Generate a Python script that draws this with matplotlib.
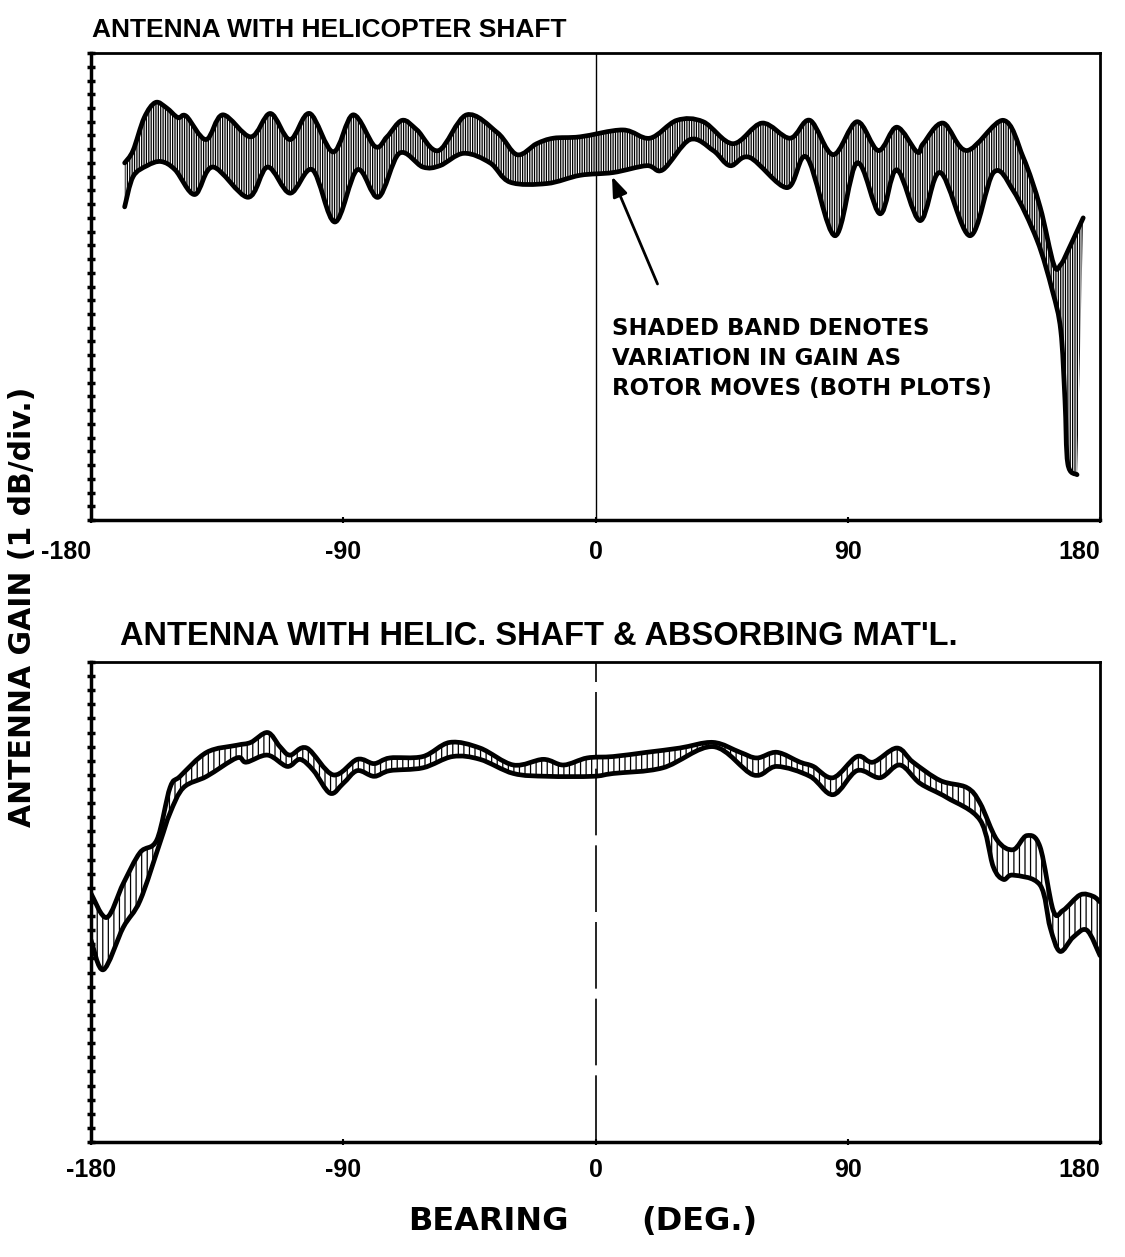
import numpy as np
import matplotlib.pyplot as plt
from matplotlib.path import Path
from matplotlib.patches import PathPatch

plt.rcParams['font.family'] = ['Liberation Sans', 'DejaVu Sans']
plt.rcParams['font.weight'] = 'bold'
plt.rcParams['hatch.linewidth'] = 0.9

# top plot: antenna with helicopter shaft (band = upper / lower envelope)
top_up_brg = [-168, -165, -161, -157, -153, -149, -146, -139, -133, -123,
              -116, -109, -102, -93.6, -86.5, -78.7, -74.4, -69, -63.7, -56,
              -46, -35, -28, -21, -15, -5.5, 9.8, 19.4, 29, 38.4,
              49, 59.4, 69.4, 76.5, 84.8, 93.3, 100.9, 107.5, 114.7, 116.9,
              124, 132.5, 145.5, 152.6, 158.6, 163.5, 166, 169, 174]
top_up_gain = [26.0, 26.9, 29.3, 30.4, 30.0, 29.3, 29.4, 27.7, 29.5, 27.9,
               29.6, 27.7, 29.6, 26.8, 29.5, 27.2, 27.9, 29.1, 28.4, 26.9,
               29.5, 28.2, 26.6, 27.4, 27.8, 27.9, 28.4, 27.8, 29.1, 29.0,
               27.4, 28.9, 27.8, 29.1, 26.6, 29.0, 26.9, 28.6, 26.8, 27.4,
               28.9, 26.9, 29.1, 26.4, 22.8, 18.6, 18.6, 19.8, 22.0]
top_lo_brg = [-168, -165, -160, -155, -150, -143, -136.5, -124, -117, -109,
              -101, -93, -85, -77.5, -70, -61.6, -55.5, -47, -37.6, -30.5,
              -17.3, -5.5, 6.3, 18.3, 24, 33.7, 42, 48, 55, 68.3,
              75.4, 85.4, 93.3, 101.5, 107.5, 115.8, 123, 133.6, 142, 149,
              157.5, 163, 166, 167.5, 168.5, 171.8]
top_lo_gain = [22.8, 25.0, 25.8, 26.1, 25.5, 23.7, 25.7, 23.5, 25.7, 23.8,
               25.5, 21.7, 25.5, 23.5, 26.7, 25.7, 25.8, 26.7, 26.0, 24.6,
               24.5, 25.1, 25.3, 25.8, 25.5, 27.7, 26.9, 25.8, 26.4, 24.2,
               26.4, 20.7, 26.0, 22.3, 25.5, 21.8, 25.3, 20.7, 25.3, 24.0,
               20.4, 16.7, 13.8, 8.7, 4.1, 3.3]

# bottom plot: with helic. shaft & absorbing material
bot_up_brg = [-180, -174.4, -168.5, -162.5, -156.5, -151.8, -148.2, -138.7, -128, -123,
              -117, -112.6, -109, -103, -93.6, -85, -79, -73.4, -61.6, -52,
              -41.2, -29.3, -18.6, -11.4, -3, 6.3, 18.3, 30, 42, 51.6,
              57.6, 64.7, 73, 77.7, 84.8, 93.3, 99, 107.5, 113.3, 123,
              132.5, 137.2, 143.2, 149, 153.9, 158.6, 163.3, 166.8, 172.9, 177.5,
              180]
bot_up_gain = [17.6, 15.9, 18.3, 20.5, 21.4, 25.1, 25.9, 27.6, 28.1, 28.3,
               29.0, 28.0, 27.4, 27.9, 26.0, 27.1, 26.8, 27.2, 27.3, 28.3,
               27.9, 26.7, 27.1, 26.7, 27.2, 27.3, 27.6, 27.9, 28.3, 27.6,
               27.2, 27.6, 26.9, 26.6, 25.8, 27.3, 26.9, 27.9, 26.9, 25.6,
               25.1, 24.0, 21.4, 20.7, 21.7, 20.9, 16.4, 16.4, 17.5, 17.4,
               17.0]
bot_lo_brg = [-180, -175.6, -168.5, -162.5, -155.4, -151.8, -147, -138.7, -128, -124.6,
              -117, -110, -105.4, -100.6, -94.7, -90, -85, -79, -73.4, -61.6,
              -51, -41.2, -29.3, -17.3, -0.9, 6.3, 24, 42, 56.3, 64.7,
              76.5, 84.8, 93.3, 101.5, 108.6, 115.8, 125.3, 137.2, 141.9, 145.5,
              149, 158.6, 162.2, 165.7, 170.4, 175.3, 180]
bot_lo_gain = [14.3, 12.2, 15.2, 17.1, 21.2, 23.3, 25.1, 25.9, 27.2, 26.9,
               27.4, 26.6, 27.1, 26.3, 24.7, 25.4, 26.3, 25.9, 26.3, 26.5,
               27.3, 27.1, 26.1, 25.9, 25.9, 26.1, 26.5, 28.0, 26.0, 26.6,
               25.9, 24.6, 26.3, 25.8, 26.7, 25.4, 24.4, 22.8, 19.5, 18.6,
               18.9, 18.2, 15.2, 13.5, 14.5, 15.0, 13.2]

xticks = [-180, -90, 0, 90, 180]
xticklabels = ['-180', '-90', '0', '90', '180']
n_div = 34


# smooth curve through the read points (catmull-rom -> bezier)
def smooth_verts(x, y):
    pts = np.column_stack([x, y]).astype(float)
    n = len(pts)
    verts = [pts[0]]
    for i in range(n - 1):
        p0 = pts[max(i - 1, 0)]
        p1 = pts[i]
        p2 = pts[i + 1]
        p3 = pts[min(i + 2, n - 1)]
        verts += [p1 + (p2 - p0) / 6, p2 - (p3 - p1) / 6, p2]
    codes = [Path.MOVETO] + [Path.CURVE4] * (3 * (n - 1))
    return verts, codes


def draw_band(ax, ub, ug, lb, lg, hatch):
    uv, uc = smooth_verts(ub, ug)
    lv, lc = smooth_verts(lb[::-1], lg[::-1])
    lc = [Path.LINETO] + lc[1:]
    band = Path(uv + lv + [uv[0]], uc + lc + [Path.CLOSEPOLY])
    ax.add_patch(PathPatch(band, facecolor='none', edgecolor='black', hatch=hatch, lw=0))
    for v, c in [(uv, uc), smooth_verts(lb, lg)]:
        ax.add_patch(PathPatch(Path(v, c), fill=False, edgecolor='black', lw=3.4,
                               joinstyle='round', capstyle='round'))


fig = plt.figure(figsize=(11.25, 12.57), dpi=100)
ax1 = fig.add_axes([0.0809, 0.5863, 0.8969, 0.3715])
ax2 = fig.add_axes([0.0809, 0.0915, 0.8969, 0.3819])

draw_band(ax1, np.array(top_up_brg), np.array(top_up_gain),
          np.array(top_lo_brg), np.array(top_lo_gain), '|||||||')
draw_band(ax2, np.array(bot_up_brg), np.array(bot_up_gain),
          np.array(bot_lo_brg), np.array(bot_lo_gain), '|||')

ax1.axvline(0, color='black', lw=1.0)
ax2.axvline(0, color='black', lw=1.2, dashes=(40, 6))

for ax, pad in [(ax1, 12), (ax2, 9)]:
    ax.set_xlim(-180, 180)
    ax.set_ylim(0, n_div)
    ax.set_xticks(xticks)
    ax.set_xticklabels(xticklabels, fontsize=18, fontweight='bold')
    ax.set_yticks(range(0, n_div + 1))
    ax.set_yticklabels([])
    ax.tick_params(axis='y', direction='inout', length=6, width=2.5)
    ax.tick_params(axis='x', direction='inout', length=5, width=1.5, pad=pad)
    for s in ['left', 'bottom']:
        ax.spines[s].set_linewidth(2.5)
    for s in ['top', 'right']:
        ax.spines[s].set_linewidth(2.0)

# label alignment like the original
labs = ax1.get_xticklabels()
labs[0].set_ha('right')
labs[-1].set_ha('right')
labs = ax2.get_xticklabels()
labs[-1].set_ha('right')

ax1.annotate('', xy=(5.5, 25.2), xytext=(22.5, 17.0),
             arrowprops=dict(arrowstyle='-|>,head_length=1.2,head_width=0.45',
                             color='black', lw=2))
fig.text(0.544, 0.748, 'SHADED BAND DENOTES\nVARIATION IN GAIN AS\nROTOR MOVES (BOTH PLOTS)',
         fontsize=16.5, fontweight='bold', family=['DejaVu Sans'], va='top', ha='left',
         linespacing=1.4)

fig.text(0.0818, 0.976, 'ANTENNA WITH HELICOPTER SHAFT', fontsize=19, fontweight='bold',
         va='center', ha='left')
fig.text(0.1067, 0.494, "ANTENNA WITH HELIC. SHAFT & ABSORBING MAT'L.", fontsize=23.5,
         fontweight='bold', va='center', ha='left')
fig.text(0.434, 0.028, 'BEARING', fontsize=23, fontweight='bold', family=['DejaVu Sans'],
         va='center', ha='center')
fig.text(0.622, 0.028, '(DEG.)', fontsize=23, fontweight='bold', family=['DejaVu Sans'],
         va='center', ha='center')
fig.text(0.0196, 0.517, 'ANTENNA GAIN (1 dB/div.)', fontsize=21.5, fontweight='bold',
         family=['DejaVu Sans'], va='center', ha='center', rotation=90)

fig.savefig('out.png', dpi=100)
